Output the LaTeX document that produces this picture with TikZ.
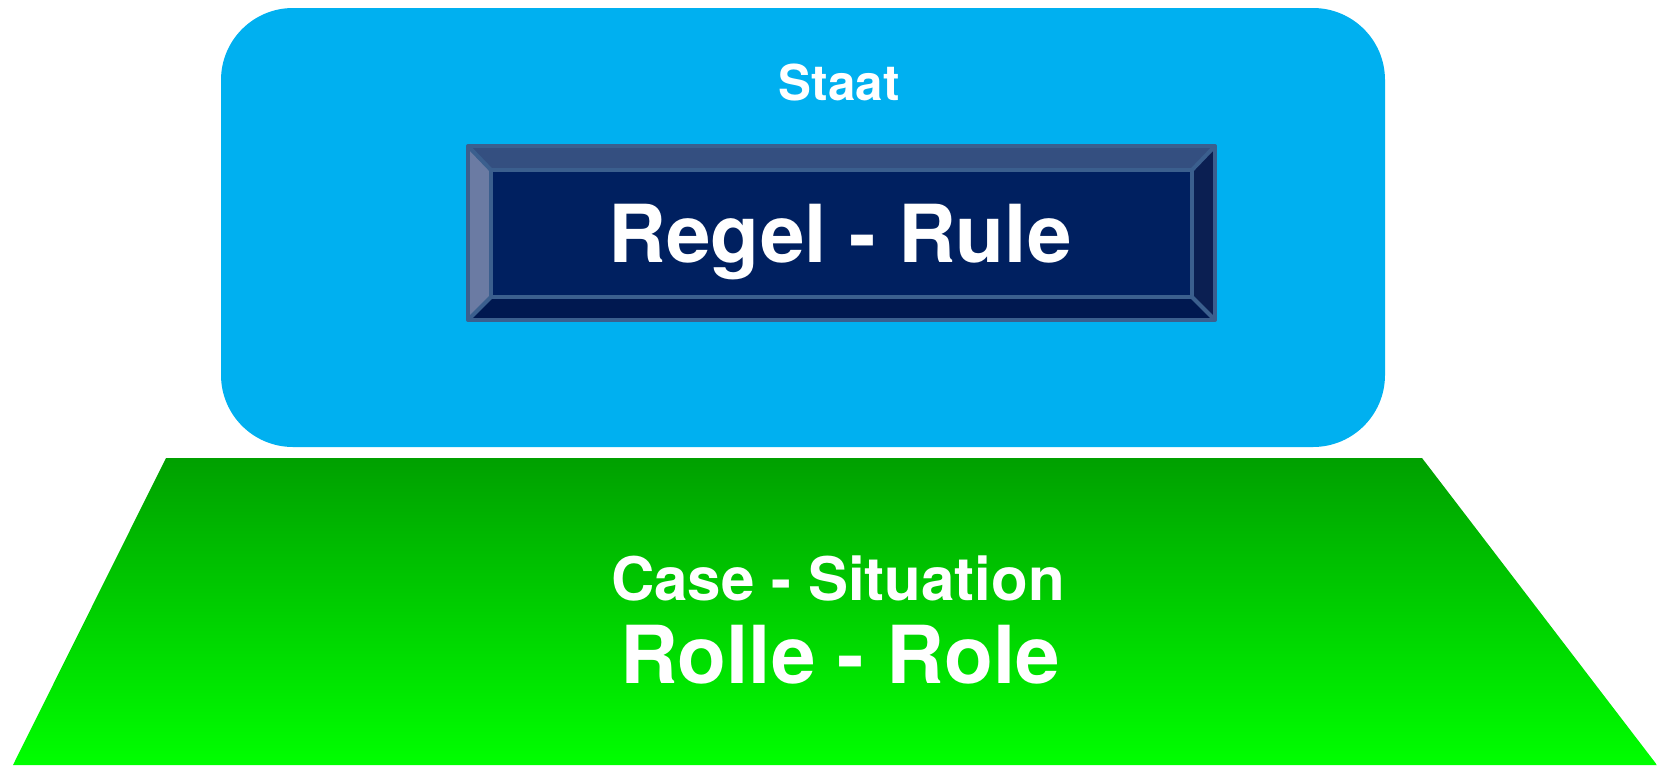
\documentclass[tikz,border=0pt]{standalone}
\usepackage{fontspec}
\setmainfont{TeX Gyre Heros}
\definecolor{staatblue}{HTML}{00B0F0}
\definecolor{face}{HTML}{002060}
\definecolor{bevtop}{HTML}{344F80}
\definecolor{bevleft}{HTML}{6B7BA3}
\definecolor{bevright}{HTML}{0B1F52}
\definecolor{bevbot}{HTML}{001850}
\definecolor{bevline}{HTML}{3B5F8E}
\definecolor{gtop}{HTML}{00A000}
\definecolor{gbot}{HTML}{00FF00}
\begin{document}
\begin{tikzpicture}[x=0.75pt,y=-0.75pt,
  lbl/.style={text=white,font=\bfseries,anchor=base,inner sep=0pt},
  bevedge/.style={draw=bevline,line width=3pt,line join=round}]
\useasboundingbox (0,0) rectangle (1657,765);
% Staat box
\fill[staatblue,rounded corners=54pt] (221,8) rectangle (1385,447);
\node[lbl,font=\bfseries\fontsize{37}{40}\selectfont] (staat) at (839,100) {Staat};
% bevel box
\coordinate (o1) at (468,146); \coordinate (o2) at (1215,146);
\coordinate (o3) at (1215,320); \coordinate (o4) at (468,320);
\coordinate (i1) at (491,170); \coordinate (i2) at (1192,170);
\coordinate (i3) at (1192,297); \coordinate (i4) at (491,297);
\fill[bevtop] (o1) -- (o2) -- (i2) -- (i1) -- cycle;
\fill[bevright] (o2) -- (o3) -- (i3) -- (i2) -- cycle;
\fill[bevbot] (o3) -- (o4) -- (i4) -- (i3) -- cycle;
\fill[bevleft] (o4) -- (o1) -- (i1) -- (i4) -- cycle;
\fill[face] (i1) rectangle (i3);
\draw[bevedge] (o1) -- (i1) (o2) -- (i2) (o3) -- (i3) (o4) -- (i4);
\draw[bevedge] (i1) rectangle (i3);
\draw[bevedge] (o1) rectangle (o3);
\node[lbl,font=\bfseries\fontsize{60}{64}\selectfont] (regel) at (840,262) {Regel - Rule};
% trapezoid
\shade[top color=gtop,bottom color=gbot] (166,458) -- (1422,458) -- (1657,765) -- (13,765) -- cycle;
\node[lbl,font=\bfseries\fontsize{45}{48}\selectfont] (case) at (838,600) {Case - Situation};
\node[lbl,font=\bfseries\fontsize{60}{64}\selectfont] (rolle) at (840,683) {Rolle - Role};
\end{tikzpicture}
\end{document}
